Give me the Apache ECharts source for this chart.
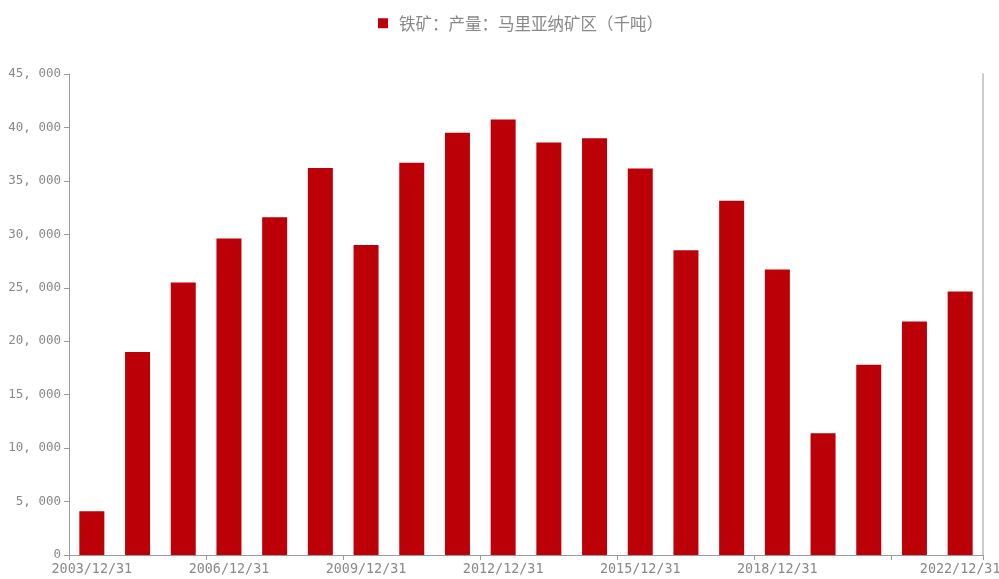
<!DOCTYPE html>
<html>
<head>
<meta charset="utf-8">
<script src="https://cdn.jsdelivr.net/npm/echarts@6/dist/echarts.min.js"></script>
<style>
html,body{margin:0;padding:0;background:#fff;overflow:hidden;}
#main{width:999px;height:579px;}
</style>
</head>
<body>
<div id="main"></div>
<script>
var categories = ["2003/12/31","2004/12/31","2005/12/31","2006/12/31","2007/12/31","2008/12/31","2009/12/31","2010/12/31","2011/12/31","2012/12/31","2013/12/31","2014/12/31","2015/12/31","2016/12/31","2017/12/31","2018/12/31","2019/12/31","2020/12/31","2021/12/31","2022/12/31"];
var seriesName = "铁矿：产量：马里亚纳矿区（千吨）";
var values = [4100,19000,25500,29600,31600,36200,29000,36700,39500,40750,38600,39000,36150,28500,33150,26700,11400,17800,21850,24650];
var shownLabels = ["2003/12/31","2006/12/31","2009/12/31","2012/12/31","2015/12/31","2018/12/31","2022/12/31"];

var chart = echarts.init(document.getElementById('main'));
var mono = "'DejaVu Sans Mono', monospace";
chart.setOption({
  animation: false,
  legend: {
    top: 10,
    left: 373,
    itemWidth: 10,
    itemHeight: 10,
    icon: 'rect',
    formatter: function (n) { return '{t|' + n + '}'; },
    textStyle: {
      color: '#888',
      fontSize: 16.5,
      fontFamily: "'Noto Sans CJK SC'",
      rich: {t: {color: '#888', fontSize: 16.5, fontFamily: "'Noto Sans CJK SC'", padding: [0, 0, 0, 6]}}
    }
  },
  grid: {left: 69, right: 16, top: 74, bottom: 24, containLabel: false, outerBoundsMode: 'none'},
  xAxis: {
    type: 'category',
    data: categories,
    boundaryGap: true,
    axisLine: {lineStyle: {color: '#999'}},
    axisTick: {show: true, interval: 2, length: 5, lineStyle: {color: '#999'}},
    axisLabel: {
      color: '#888',
      fontSize: 13.4,
      fontFamily: mono,
      margin: 8,
      interval: function (idx, val) { return shownLabels.indexOf(val) >= 0; }
    }
  },
  yAxis: [{
    type: 'value',
    min: 0,
    max: 45000,
    interval: 5000,
    splitLine: {show: false},
    axisLine: {show: true, lineStyle: {color: '#999'}},
    axisTick: {show: true, length: 5, lineStyle: {color: '#999'}},
    axisLabel: {
      color: '#888',
      fontSize: 12.5,
      fontFamily: mono,
      margin: 8,
      formatter: function (v) { return v.toLocaleString('en-US').replace(',', ', '); }
    }
  }, {
    type: 'value',
    position: 'right',
    min: 0,
    max: 45000,
    interval: 5000,
    splitLine: {show: false},
    axisLine: {show: true, lineStyle: {color: '#ccc', width: 2}},
    axisTick: {show: false},
    axisLabel: {show: false}
  }],
  series: [{
    name: seriesName,
    type: 'bar',
    barWidth: 25,
    data: values,
    itemStyle: {color: '#bc0008'}
  }]
});
</script>
</body>
</html>
